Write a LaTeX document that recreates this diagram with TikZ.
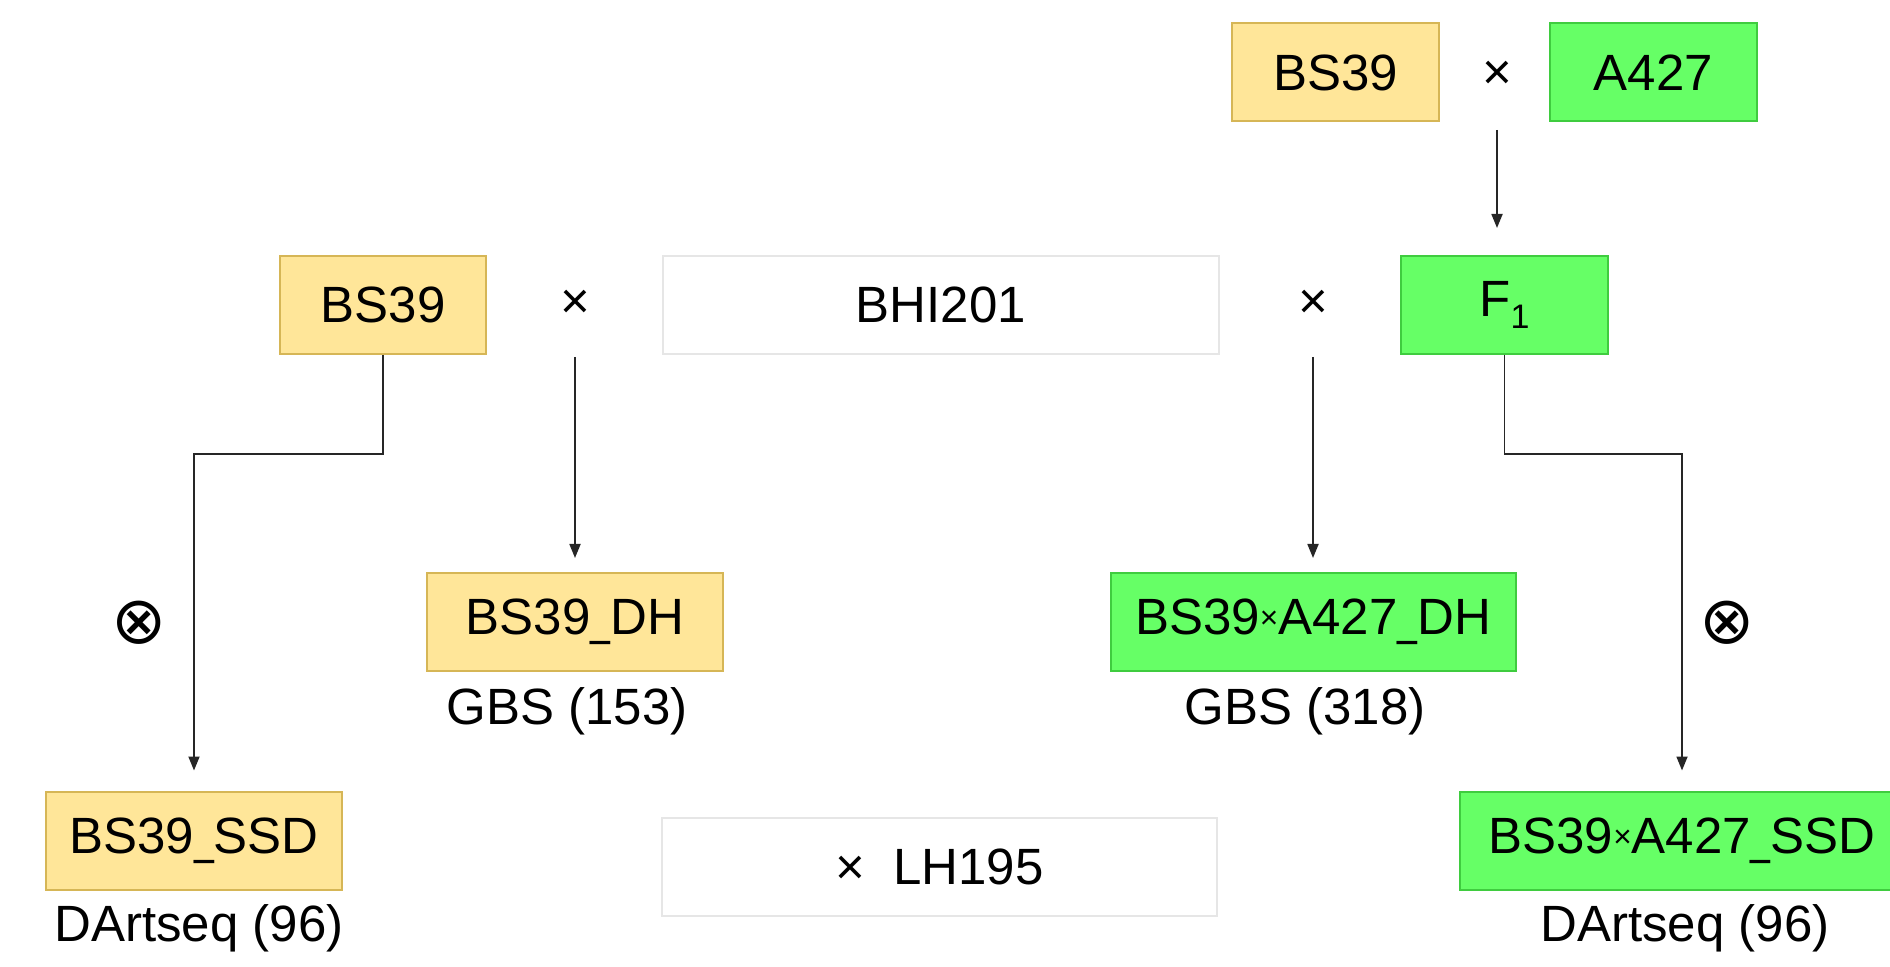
\documentclass[tikz,border=0pt]{standalone}
\usepackage{fontspec}
\usepackage{graphicx}
\setmainfont{Liberation Sans}
\newfontfamily\symfont{DejaVu Sans}
\usetikzlibrary{arrows.meta,calc}
\definecolor{yfill}{HTML}{FFE699}
\definecolor{ydraw}{HTML}{D6B656}
\definecolor{gfill}{HTML}{66FF66}
\definecolor{gdraw}{HTML}{3FCC3F}
\definecolor{wdraw}{HTML}{E6E6E6}
\definecolor{lcol}{HTML}{262626}
\newcommand\usc{\scalebox{0.7}[1]{\_}}
\newcommand\smx{\raisebox{0.12em}{\scalebox{0.62}{×}}}
\begin{document}
\begin{tikzpicture}[x=0.5pt,y=-0.5pt,
  every node/.style={font=\fontsize{25.5}{30}\selectfont, inner sep=0pt},
  ybox/.style={draw=ydraw, fill=yfill, line width=1pt, minimum height=49pt},
  gbox/.style={draw=gdraw, fill=gfill, line width=1pt, minimum height=49pt},
  wbox/.style={draw=wdraw, fill=white, line width=1pt, minimum height=49pt},
  lbl/.style={},
  otimes/.style={font=\symfont\fontsize{33}{36}\selectfont},
  conn/.style={draw=lcol, line width=0.9pt, -{Triangle[length=7pt,width=5.5pt]}}]
\useasboundingbox (0,0) rectangle (1890,967);
\clip (0,0) rectangle (1890,967);
% top row
\node[ybox, minimum width=103.5pt] (topBS) at (1335.5,72.5) {BS39};
\node (xtop) at (1497,75) {×};
\node[gbox, minimum width=103.5pt] (topA) at (1653.5,72.5) {A427};
% middle row
\node[ybox, minimum width=103pt] (midBS) at (383,305) {BS39};
\node (xL) at (575,304) {×};
\node[wbox, minimum width=278pt] (BHI) at (941,305) {BHI201};
\node (xR) at (1313,304) {×};
\node[gbox, minimum width=103.5pt] (F1) at (1504.5,305) {F\raisebox{-0.25em}{\fontsize{17}{20}\selectfont 1}};
% DH row
\node[ybox, minimum width=148pt] (DHL) at (575,622) {BS39\usc DH};
\node[lbl] (GBSL) at (567,711) {GBS (153)};
\node[gbox, minimum width=202.5pt] (DHR) at (1313,622) {BS39\smx A427\usc DH};
\node[lbl] (GBSR) at (1305,711) {GBS (318)};
\node[otimes] (otL) at (139,623) {⊗};
\node[otimes] (otR) at (1727,623) {⊗};
% SSD row
\node[ybox, minimum width=148pt] (SSDL) at (194,840.5) {BS39\usc SSD};
\node[lbl] (DartL) at (199,928) {DArtseq (96)};
\node[wbox, minimum width=277.5pt] (LH) at (939.5,867) {×\hspace{0.55em}LH195\hspace{1.25em}};
\node[gbox, minimum width=222pt] (SSDR) at (1682,840.5) {BS39\smx A427\usc SSD};
\node[lbl] (DartR) at (1685,928) {DArtseq (96)};
% connectors
\draw[conn, shorten <=27.5pt, shorten >=13.5pt] (xtop.center) -- (xtop |- F1.north);
\draw[conn, shorten <=26.5pt, shorten >=7pt] (xL.center) -- (xL |- DHL.north);
\draw[conn, shorten <=26.5pt, shorten >=7pt] (xR.center) -- (xR |- DHR.north);
\draw[conn, shorten >=10pt] (midBS.south) -- ++(0,99) -| (SSDL.north);
\draw[conn, shorten >=10pt] (F1.south) -- ++(0,99) -| (SSDR.north);
\end{tikzpicture}
\end{document}
